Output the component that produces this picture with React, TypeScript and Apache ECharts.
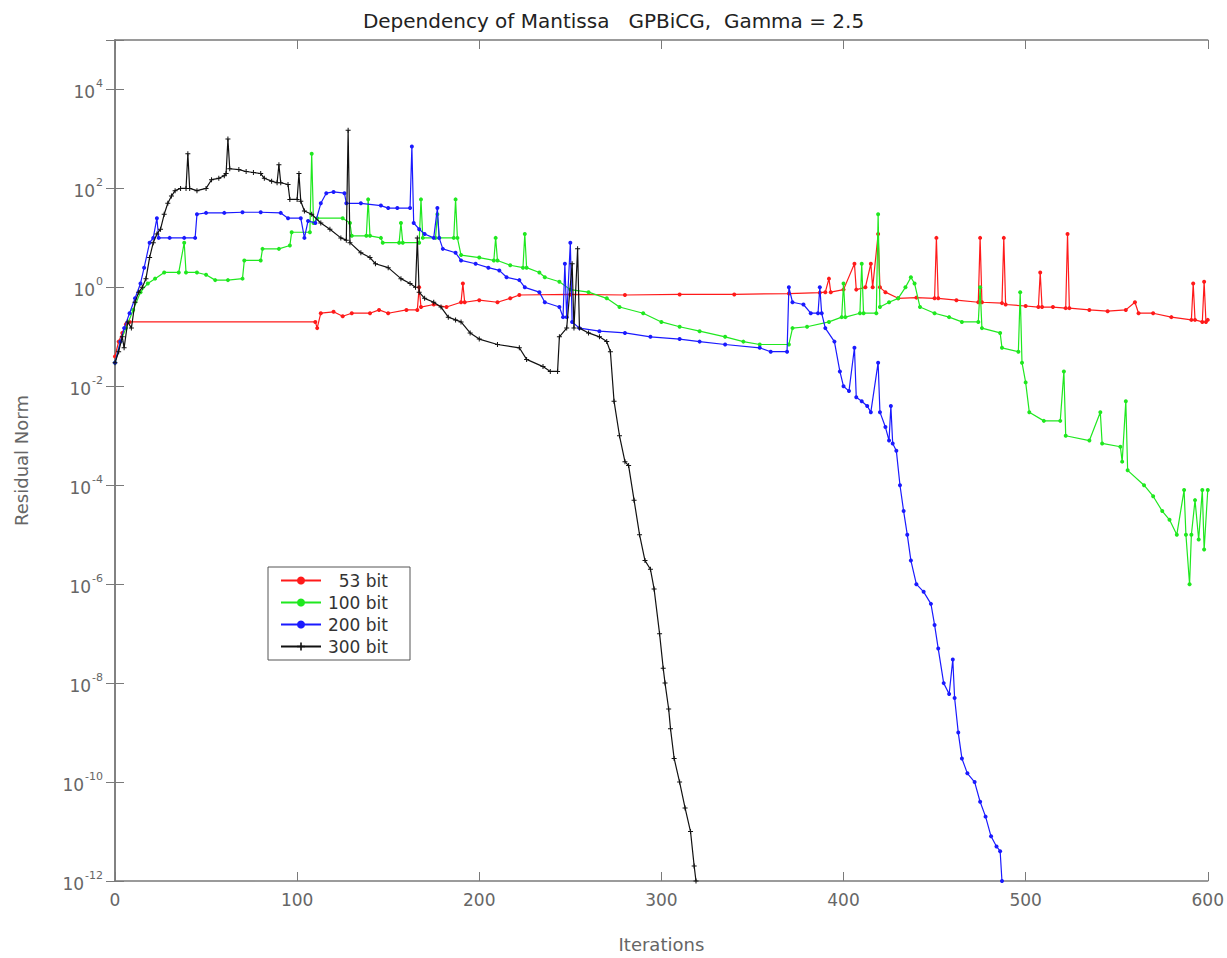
import React, { useEffect, useRef } from "react";
import * as echarts from "echarts";

const titleText = "Dependency of Mantissa   GPBiCG,  Gamma = 2.5";
const seriesNames = ["53 bit", "100 bit", "200 bit", "300 bit"];
const seriesColors = ["#ff1a1a", "#1fe81f", "#1a1aff", "#111111"];
const xTicks = { min: 0, max: 600, interval: 100 };
const yRange = { min: 1e-12, max: 1e5 };

const red53: [number, number][] = [
  [0, 0.04], [2, 0.08], [4, 0.12], [6, 0.18], [8, 0.2], [110, 0.2], [111, 0.15], [113, 0.3],
  [120, 0.32], [125, 0.26], [130, 0.3], [140, 0.3], [145, 0.35], [150, 0.3], [160, 0.35],
  [166, 0.35], [167, 1.0], [168, 0.4], [175, 0.45], [182, 0.4], [190, 0.5], [191, 1.2],
  [192, 0.5], [200, 0.55], [210, 0.5], [217, 0.6], [222, 0.7], [250, 0.72], [280, 0.7],
  [310, 0.72], [340, 0.72], [370, 0.75], [387, 0.78], [390, 0.8], [392, 1.5], [393, 0.8],
  [400, 0.9], [406, 3], [407, 0.9], [412, 1.0], [415, 3], [416, 1.0], [419, 12], [420, 1.0],
  [423, 0.8], [430, 0.6], [440, 0.62], [450, 0.6], [451, 10], [452, 0.6], [462, 0.55],
  [474, 0.5], [475, 10], [476, 0.5], [487, 0.48], [488, 10], [489, 0.45], [500, 0.42],
  [507, 0.4], [508, 2], [509, 0.4], [515, 0.4], [522, 0.38], [523, 12], [524, 0.38],
  [535, 0.35], [545, 0.33], [555, 0.35], [560, 0.5], [562, 0.3], [570, 0.3], [580, 0.25],
  [591, 0.22], [592, 1.2], [593, 0.22], [597, 0.2], [598, 1.3], [599, 0.2], [600, 0.22],
];

const green100: [number, number][] = [
  [0, 0.03], [3, 0.08], [6, 0.15], [10, 0.35], [14, 0.8], [18, 1.2], [22, 1.5], [27, 2],
  [35, 2], [38, 8], [39, 2], [45, 2], [50, 1.8], [55, 1.4], [62, 1.4], [70, 1.5], [71, 3.5],
  [80, 3.5], [81, 6], [90, 6], [96, 7], [97, 13], [107, 13], [108, 500], [109, 20],
  [111, 25], [125, 25], [129, 20], [130, 11], [138, 11], [139, 60], [140, 11], [146, 10],
  [147, 8], [156, 8], [157, 20], [158, 8], [167, 8], [168, 60], [169, 10], [176, 10],
  [177, 30], [178, 10], [186, 10], [187, 60], [188, 10], [190, 4.5], [200, 4], [208, 3.5],
  [209, 10], [210, 3.5], [217, 2.8], [224, 2.5], [225, 12], [226, 2.5], [233, 2],
  [236, 1.6], [244, 1.3], [250, 0.9], [260, 0.8], [270, 0.6], [277, 0.4], [290, 0.3],
  [300, 0.2], [310, 0.16], [321, 0.13], [335, 0.1], [345, 0.08], [354, 0.07], [370, 0.07],
  [372, 0.15], [380, 0.16], [392, 0.2], [399, 0.25], [400, 1.2], [401, 0.25], [409, 0.3],
  [410, 3], [411, 0.3], [418, 0.3], [419, 30], [420, 0.4], [425, 0.5], [430, 0.6],
  [434, 1.0], [437, 1.6], [439, 1.2], [442, 0.4], [450, 0.3], [458, 0.25], [465, 0.2],
  [474, 0.2], [475, 1], [476, 0.15], [486, 0.12], [487, 0.06], [496, 0.05], [497, 0.8],
  [498, 0.03], [500, 0.012], [502, 0.003], [510, 0.002], [519, 0.002], [521, 0.02],
  [522, 0.001], [535, 0.0008], [541, 0.003], [542, 0.0007], [552, 0.0006], [553, 0.0003],
  [555, 0.005], [556, 0.0002], [565, 0.0001], [570, 6e-5], [575, 3e-5], [579, 2e-5],
  [583, 1e-5], [587, 8e-5], [588, 1e-5], [590, 1e-6], [591, 1e-5], [593, 5e-5], [595, 8e-6],
  [597, 8e-5], [598, 5e-6], [600, 8e-5],
];

const blue200: [number, number][] = [
  [0, 0.03], [3, 0.08], [5, 0.15], [8, 0.3], [11, 0.6], [14, 1.2], [16, 2.5], [19, 8],
  [21, 10], [23, 25], [24, 10], [30, 10], [38, 10], [44, 10], [45, 30], [50, 32], [60, 32],
  [70, 33], [80, 33], [91, 32], [95, 25], [102, 25], [104, 10], [106, 22], [110, 20],
  [113, 50], [116, 80], [120, 85], [126, 80], [127, 50], [135, 50], [146, 45], [150, 40],
  [155, 40], [162, 40], [163, 700], [164, 20], [167, 15], [170, 12], [175, 10], [177, 40],
  [178, 10], [180, 6], [187, 5], [190, 3.5], [198, 3], [205, 2.5], [211, 2.2], [215, 1.6],
  [222, 1.4], [225, 1.0], [233, 0.8], [236, 0.5], [244, 0.4], [246, 0.25], [247, 3],
  [248, 0.25], [250, 8], [251, 0.2], [255, 0.15], [266, 0.13], [280, 0.12], [294, 0.1],
  [310, 0.09], [321, 0.08], [335, 0.07], [354, 0.06], [360, 0.05], [369, 0.05], [370, 1.0],
  [372, 0.5], [378, 0.45], [382, 0.3], [386, 0.3], [387, 1.0], [388, 0.3], [390, 0.15],
  [395, 0.08], [398, 0.02], [400, 0.01], [403, 0.008], [406, 0.06], [407, 0.006],
  [410, 0.005], [413, 0.004], [415, 0.003], [419, 0.03], [420, 0.003], [423, 0.0015],
  [425, 0.0008], [426, 0.004], [427, 0.0007], [429, 0.0005], [431, 0.0001], [433, 3e-5],
  [435, 1e-5], [437, 3e-6], [440, 1e-6], [444, 7e-7], [448, 4e-7], [450, 1.5e-7],
  [452, 5e-8], [455, 1e-8], [458, 6e-9], [460, 3e-8], [461, 5e-9], [463, 1e-9],
  [465, 3e-10], [468, 1.5e-10], [472, 1e-10], [475, 4e-11], [478, 2e-11], [481, 8e-12],
  [484, 5e-12], [486, 4e-12], [487, 1e-12],
];

const black300: [number, number][] = [
  [0, 0.03], [2, 0.05], [4, 0.1], [5, 0.06], [7, 0.2], [9, 0.15], [11, 0.5], [13, 0.8],
  [15, 1], [17, 1.5], [19, 4], [21, 8], [23, 12], [25, 15], [27, 30], [29, 50], [31, 70],
  [33, 90], [36, 100], [39, 100], [40, 500], [41, 100], [45, 90], [50, 100], [53, 150],
  [57, 160], [60, 180], [61, 200], [62, 1000], [63, 250], [68, 240], [72, 220], [76, 210],
  [80, 200], [82, 160], [86, 140], [89, 130], [90, 300], [91, 130], [95, 120], [96, 60],
  [100, 60], [101, 200], [102, 55], [104, 35], [108, 30], [113, 20], [118, 15], [124, 10],
  [127, 9], [128, 1500], [129, 8], [135, 5], [140, 4], [143, 3], [150, 2.5], [157, 1.5],
  [162, 1.2], [165, 1.0], [166, 10], [167, 0.8], [170, 0.6], [175, 0.5], [179, 0.4],
  [183, 0.25], [187, 0.22], [190, 0.2], [195, 0.12], [200, 0.09], [210, 0.07], [222, 0.06],
  [226, 0.035], [235, 0.025], [239, 0.02], [243, 0.02], [244, 0.1], [248, 0.15], [251, 3],
  [252, 0.15], [254, 6], [255, 0.15], [260, 0.12], [266, 0.1], [270, 0.08], [272, 0.05],
  [274, 0.005], [277, 0.001], [280, 0.0003], [282, 0.00025], [285, 5e-5], [288, 1e-5],
  [291, 3e-6], [294, 2e-6], [296, 8e-7], [299, 1e-7], [301, 2e-8], [302, 1e-8], [304, 3e-9],
  [305, 1.2e-9], [307, 3e-10], [310, 1e-10], [313, 3e-11], [316, 1e-11], [318, 2e-12],
  [319, 1e-12],
];

const seriesData = [red53, green100, blue200, black300];
const plusSymbol = "path://M4,0H6V4H10V6H6V10H4V6H0V4H4Z";

const FONT = "DejaVu Sans";
const AXIS_COLOR = "#7a7a7a";
const LABEL_COLOR = "#666";

function yLabel(v: number): string {
  const e = Math.round(Math.log10(v));
  if (e % 2 !== 0) return "";
  return `{b|10}{s|${e}}`;
}

export default function App() {
  const ref = useRef<HTMLDivElement>(null);
  useEffect(() => {
    document.body.style.margin = "0";
    if (!ref.current) return;
    const chart = echarts.init(ref.current, undefined, { renderer: "svg" });
    const axisLine = { show: true, lineStyle: { color: AXIS_COLOR, width: 1.5 } };
    const tick = { show: true, inside: true, length: 9, lineStyle: { color: AXIS_COLOR, width: 1 } };
    chart.setOption({
      animation: false,
      backgroundColor: "#ffffff",
      title: {
        text: titleText,
        left: "center",
        top: 6,
        textStyle: { fontFamily: FONT, fontSize: 20, fontWeight: "normal", color: "#222" },
      },
      legend: {
        data: seriesNames,
        orient: "vertical",
        left: 268,
        top: 567,
        backgroundColor: "#fff",
        borderColor: "#555",
        borderWidth: 1,
        borderRadius: 0,
        padding: [4, 22, 4, 12],
        itemWidth: 40,
        itemHeight: 10,
        itemGap: 3,
        formatter: (n: string) => `{t|${n}}`,
        textStyle: {
          fontFamily: FONT,
          fontSize: 17,
          color: "#333",
          lineHeight: 19,
          rich: { t: { width: 62, align: "right", fontFamily: FONT, fontSize: 17, lineHeight: 19, color: "#333" } },
        },
      },
      grid: { left: 115, right: 19, top: 40, bottom: 74, containLabel: false },
      xAxis: [
        {
          type: "value",
          position: "bottom",
          min: xTicks.min,
          max: xTicks.max,
          interval: xTicks.interval,
          axisLine,
          axisTick: tick,
          splitLine: { show: false },
          axisLabel: { margin: 10, fontFamily: FONT, fontSize: 17, color: LABEL_COLOR },
          name: "Iterations",
          nameLocation: "middle",
          nameGap: 54,
          nameTextStyle: { fontFamily: FONT, fontSize: 18, color: LABEL_COLOR },
        },
        {
          type: "value",
          position: "top",
          min: xTicks.min,
          max: xTicks.max,
          interval: xTicks.interval,
          axisLine,
          axisTick: tick,
          splitLine: { show: false },
          axisLabel: { show: false },
        },
      ],
      yAxis: [
        {
          type: "log",
          logBase: 10,
          position: "left",
          min: yRange.min,
          max: yRange.max,
          interval: 2,
          axisLine,
          axisTick: tick,
          splitLine: { show: false },
          minorTick: { show: false },
          axisLabel: {
            margin: 12,
            formatter: yLabel,
            color: LABEL_COLOR,
            rich: {
              b: { fontFamily: FONT, fontSize: 17, color: LABEL_COLOR, lineHeight: 22, verticalAlign: "bottom" },
              s: { fontFamily: FONT, fontSize: 11, color: LABEL_COLOR, lineHeight: 11, verticalAlign: "top", padding: [0, 0, 0, 1] },
            },
          },
          name: "Residual Norm",
          nameLocation: "middle",
          nameGap: 85,
          nameTextStyle: { fontFamily: FONT, fontSize: 18, color: LABEL_COLOR },
        },
        {
          type: "log",
          logBase: 10,
          position: "right",
          min: yRange.min,
          max: yRange.max,
          interval: 2,
          axisLine,
          axisTick: tick,
          splitLine: { show: false },
          axisLabel: { show: false },
        },
      ],
      series: seriesNames.map((name, i) => ({
        name,
        type: "line",
        xAxisIndex: 0,
        yAxisIndex: 0,
        data: seriesData[i],
        color: seriesColors[i],
        showSymbol: true,
        symbol: i === 3 ? plusSymbol : "circle",
        symbolSize: i === 3 ? 5 : 4,
        lineStyle: { width: 1.2, color: seriesColors[i] },
        itemStyle: { color: seriesColors[i] },
        clip: true,
        z: 2 + i,
      })),
    });
    return () => chart.dispose();
  }, []);
  return <div ref={ref} style={{ width: 1227, height: 958 }} />;
}
